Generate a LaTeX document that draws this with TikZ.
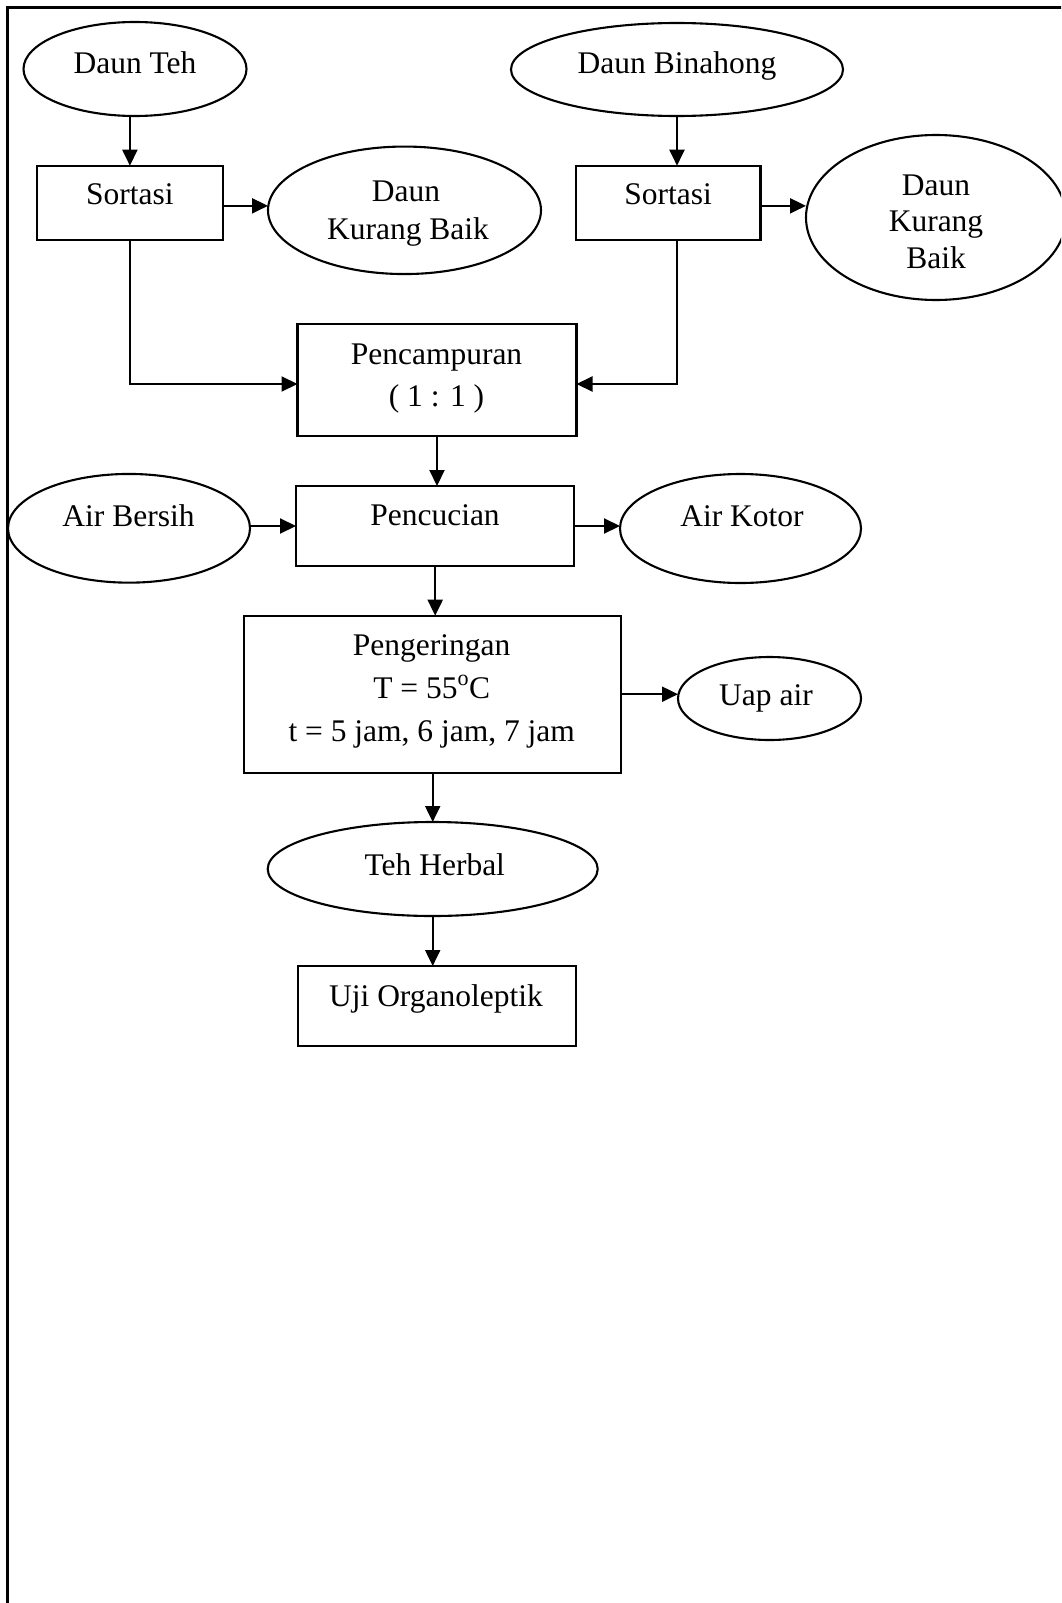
\documentclass[tikz,border=0pt]{standalone}
\usepackage{fontspec}
\setmainfont{Liberation Serif}
\usetikzlibrary{shapes.geometric,arrows.meta}
\begin{document}
\begin{tikzpicture}[x=1pt,y=-1pt,
  lw/.style={line width=2.1pt},
  box/.style={draw,lw,rectangle,inner sep=0pt,outer sep=0pt},
  oval/.style={draw,lw,ellipse,inner sep=0pt,outer sep=0pt},
  txt/.style={anchor=base,inner sep=0pt,font=\fontsize{31.5}{38}\selectfont},
  arr/.style={lw,-{Triangle[length=16pt,width=15pt]}},
  conn/.style={lw}]
\useasboundingbox (0,0) rectangle (1061,1603);
\clip (0,0) rectangle (1061,1603);
\fill[white] (0,0) rectangle (1061,1603);
\draw[line width=2.4pt] (1075,7.5) -- (7.5,7.5) -- (7.5,1615);

% shapes
\node[oval,minimum width=223pt,minimum height=94pt] (dt) at (135,69) {};
\node[oval,minimum width=332pt,minimum height=93pt] (db) at (677,69.5) {};
\node[box,minimum width=185.3pt,minimum height=74.3pt] (s1) at (129.9,202.85) {};
\node[box,minimum width=184.5pt,minimum height=74.3pt] (s2) at (668.25,202.85) {};
\node[oval,minimum width=273pt,minimum height=127.5pt] (k1) at (404.5,210.3) {};
\node[oval,minimum width=260pt,minimum height=165pt] (k2) at (936,217.5) {};
\node[box,minimum width=279pt,minimum height=112pt] (pc) at (437,380) {};
\node[box,minimum width=278.4pt,minimum height=80pt] (pw) at (435.2,526) {};
\node[oval,minimum width=242pt,minimum height=108.7pt] (ab) at (129,528.3) {};
\node[oval,minimum width=241pt,minimum height=109pt] (ak) at (740.5,528.5) {};
\node[box,minimum width=376.7pt,minimum height=157pt] (pg) at (432.35,694.2) {};
\node[oval,minimum width=183pt,minimum height=83pt] (ua) at (769.5,698.5) {};
\node[oval,minimum width=330pt,minimum height=94pt] (th) at (432.7,869) {};
\node[box,minimum width=278.6pt,minimum height=80pt] (uj) at (437,1006) {};

% texts
\node[txt] (tdt) at (135,74) {Daun Teh};
\node[txt] (tdb) at (677,74) {Daun Binahong};
\node[txt] (ts1) at (129.9,204) {Sortasi};
\node[txt] (ts2) at (668,204) {Sortasi};
\node[txt] (tk1a) at (406,201) {Daun};
\node[txt] (tk1b) at (408,239) {Kurang Baik};
\node[txt] (tk2a) at (936,195) {Daun};
\node[txt] (tk2b) at (936,231.7) {Kurang};
\node[txt] (tk2c) at (936,268) {Baik};
\node[txt] (tpca) at (436.5,364) {Pencampuran};
\node[txt] (tpcb) at (436.5,406) {( 1 : 1 )};
\node[txt] (tpw) at (435,525) {Pencucian};
\node[txt] (tab) at (128.5,526.7) {Air Bersih};
\node[txt] (tak) at (742,526.7) {Air Kotor};
\node[txt] (tpga) at (431.7,655) {Pengeringan};
\node[txt] (tpgb) at (431.7,698.3) {T = 55\raisebox{0.25ex}{\textsuperscript{o}}C};
\node[txt] (tpgc) at (431.7,741.7) {t = 5 jam, 6 jam, 7 jam};
\node[txt] (tua) at (766,705) {Uap air};
\node[txt] (tth) at (434.8,875) {Teh Herbal};
\node[txt] (tuj) at (436,1006) {Uji Organoleptik};

% connectors
\draw[arr] (s1 |- dt.south) -- (s1.north);
\draw[arr] (db.south) -- (db.south |- s2.north);
\draw[arr] ([yshift=-3pt]s1.east) -- ([yshift=-3pt]s1.east -| k1.west);
\draw[arr] ([yshift=-3pt]s2.east) -- ([yshift=-3pt]s2.east -| k2.west);
\draw[arr] (s1.south) |- ([yshift=-4pt]pc.west);
\draw[arr] (db.south |- s2.south) |- ([yshift=-4pt]pc.east);
\draw[arr] (pc.south) -- (pc.south |- pw.north);
\draw[arr] (pw.west -| ab.east) -- (pw.west);
\draw[arr] (pw.east) -- (pw.east -| ak.west);
\draw[arr] (pw.south) -- (pw.south |- pg.north);
\draw[arr] (pg.east) -- (pg.east -| ua.west);
\draw[arr] (th |- pg.south) -- (th.north);
\draw[arr] (th.south) -- (th.south |- uj.north);
\end{tikzpicture}
\end{document}
